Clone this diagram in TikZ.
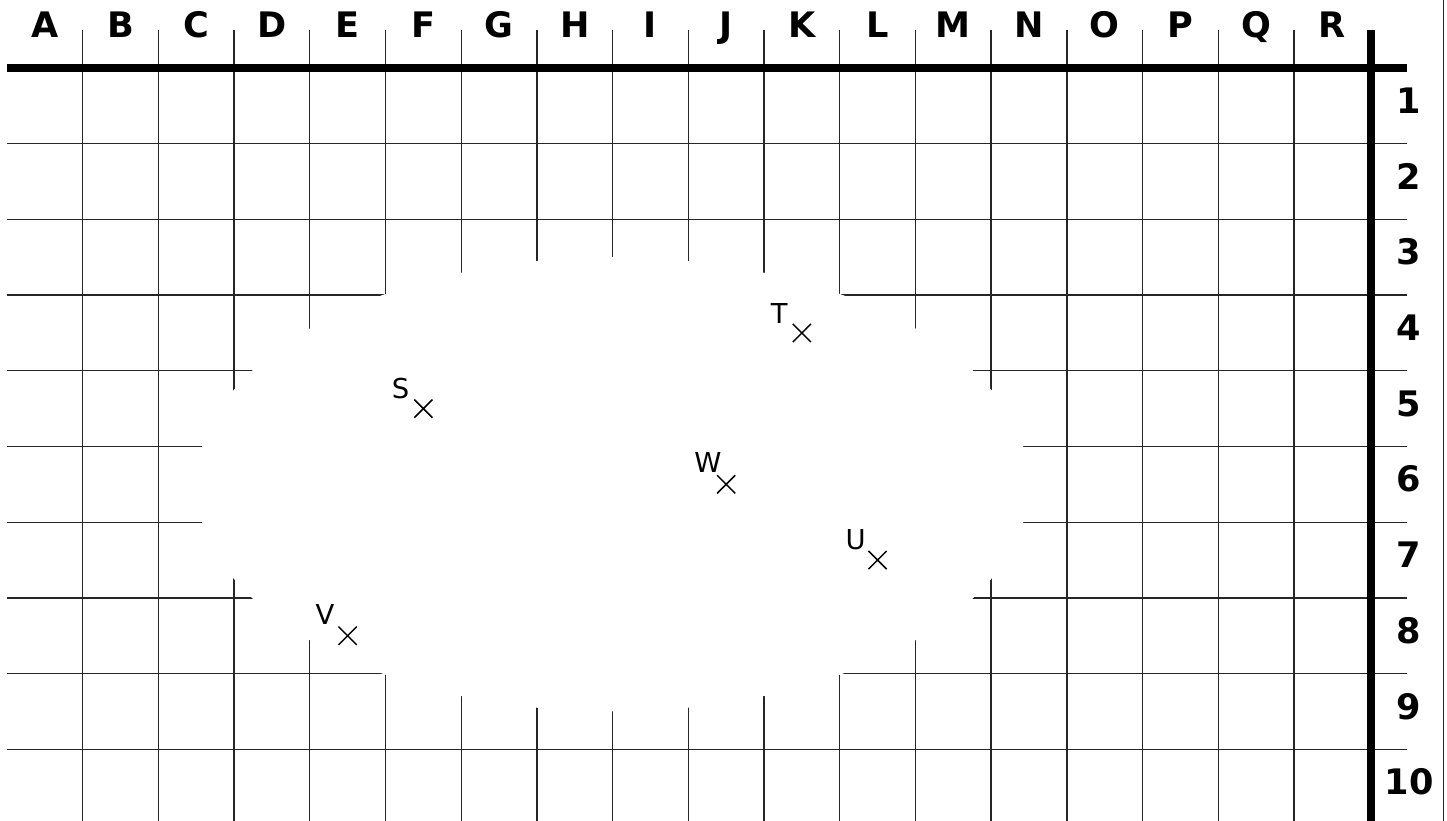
\documentclass[tikz,border=0pt]{standalone}
\usepackage{fontspec}
\setmainfont{DejaVu Sans}
\usetikzlibrary{shapes.misc}
\begin{document}
\begin{tikzpicture}[
  gridline/.style={line width=0.5pt, black!85},
  rule/.style={line width=3pt, black},
  colhead/.style={anchor=base, inner sep=0pt, font=\fontsize{13.2}{15}\selectfont\bfseries},
  rowhead/.style={anchor=base, inner sep=0pt, font=\fontsize{13.2}{15}\selectfont\bfseries},
  place/.style={anchor=base, inner sep=0pt, font=\fontsize{10.3}{12}\selectfont},
  xmark/.style={draw, cross out, minimum size=0.24cm, inner sep=0pt, outer sep=0pt, line width=0.55pt},
]
  \useasboundingbox (-0.0925,0.898) rectangle (19.022,-9.947);

  % grid
  \foreach \j in {1,...,9}
    \draw[gridline] (0,-\j) -- (18.5,-\j);
  \foreach \k in {1,...,17}
    \draw[gridline] (\k,0.5) -- (\k,-9.947);
  % clearing in the middle
  \fill[white] (8,-5.5) ellipse (5.5 and 3);

  \draw[rule] (0,0) -- (18.5,0);
  \draw[rule] (18.02,0.5) -- (18.02,-9.947);
  \draw[gridline] (18.98,0.898) -- (18.98,-9.947);

  % headings
  \foreach \c [count=\i] in {A,...,R}
    \node[colhead] (col\c) at (\i-0.5,0.4) {\c};
  \foreach \j in {1,...,10}
    \node[rowhead] (row\j) at (18.52,-\j+0.4) {\j};

  % points
  \node[xmark] (ptS) at (5.5,-4.5) {};
  \node[xmark] (ptT) at (10.5,-3.5) {};
  \node[xmark] (ptU) at (11.5,-6.5) {};
  \node[xmark] (ptV) at (4.5,-7.5) {};
  \node[xmark] (ptW) at (9.5,-5.5) {};

  \node[place] (lblS) at (5.2,-4.37) {S};
  \node[place] (lblT) at (10.2,-3.37) {T};
  \node[place] (lblU) at (11.21,-6.36) {U};
  \node[place] (lblV) at (4.2,-7.35) {V};
  \node[place] (lblW) at (9.26,-5.35) {W};
\end{tikzpicture}
\end{document}
